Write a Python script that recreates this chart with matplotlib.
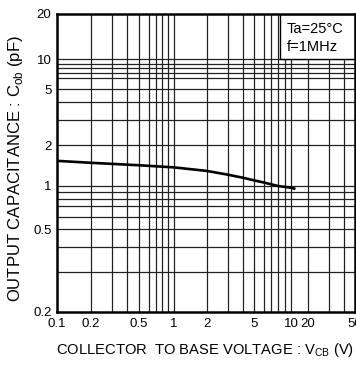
import numpy as np
import matplotlib
matplotlib.use('Agg')
import matplotlib.pyplot as plt
from matplotlib.patches import Rectangle

plt.rcParams['font.family'] = ['Liberation Sans', 'DejaVu Sans']
plt.rcParams['mathtext.fontset'] = 'custom'
plt.rcParams['mathtext.rm'] = 'Liberation Sans'

# curve
vcb = [0.1, 0.2, 0.5, 1, 2, 3, 4, 5, 6, 8, 10, 12]
cob = [1.53, 1.48, 1.42, 1.37, 1.29, 1.21, 1.15, 1.10, 1.06, 1.00, 0.97, 0.95]

x_ticks = [0.1, 0.2, 0.5, 1, 2, 5, 10, 20, 50]
x_labels = ['0.1', '0.2', '0.5', '1', '2', '5', '10', '20', '50']
y_ticks = [0.2, 0.5, 1, 2, 5, 10, 20]
y_labels = ['0.2', '0.5', '1', '2', '5', '10', '20']

x_grid = [0.2, 0.3, 0.4, 0.5, 0.6, 0.7, 0.8, 0.9, 1, 2, 3, 4, 5, 6, 7, 8, 9, 10, 20, 30, 40]
y_grid = [0.3, 0.4, 0.5, 0.6, 0.7, 0.8, 0.9, 1, 2, 3, 4, 5, 6, 7, 8, 9, 10]

# the printed grid is not a clean log grid, so the scale follows the drawn lines
x_knots = [0.1, 0.2, 0.3, 0.4, 0.5, 0.6, 0.7, 0.8, 0.9, 1, 2, 3, 4, 5, 6, 7, 8, 9, 10, 20, 30, 40, 50]
x_knot_px = [57, 91, 112, 127, 139, 149, 156, 162, 168, 174, 207, 228, 243, 254, 264, 271, 278, 285, 291, 308, 329, 344, 355]
y_knots = [0.2, 0.3, 0.4, 0.5, 0.6, 0.7, 0.8, 0.9, 1, 2, 3, 4, 5, 6, 7, 8, 9, 10, 20]
y_knot_px = [312, 272, 247, 229, 217, 206, 199, 192, 186, 145, 120, 102, 89, 78, 73, 68, 64, 59, 14]


def make_scale(knots, px):
    lk = np.log10(knots)
    p = np.array(px, dtype=float)
    if p[0] > p[-1]:
        p = -p

    def fwd(v):
        v = np.clip(np.asarray(v, dtype=float), 1e-9, None)
        return np.interp(np.log10(v), lk, p)

    def inv(u):
        return 10 ** np.interp(u, p, lk)
    return fwd, inv


W, H = 356, 365
L, R, T, B = 57, 355, 14, 312
fig = plt.figure(figsize=(W / 100, H / 100), dpi=100)
ax = fig.add_axes([L / W, (H - B) / H, (R - L) / W, (B - T) / H])

ax.set_xscale('function', functions=make_scale(x_knots, x_knot_px))
ax.set_yscale('function', functions=make_scale(y_knots, y_knot_px))
ax.set_xlim(0.1, 50)
ax.set_ylim(0.2, 20)

for v in x_grid:
    ax.axvline(v, color='#222222', lw=0.9, zorder=1)
for v in y_grid:
    ax.axhline(v, color='#222222', lw=0.9, zorder=1)

# condition box in the top right corner (axes fraction)
bx = (280 - L) / (R - L)
by = (B - 59) / (B - T)
ax.add_patch(Rectangle((bx, by), 1 - bx, 1 - by, transform=ax.transAxes,
                       facecolor='white', edgecolor='black', lw=1.0, zorder=3))
ax.text((287 - L) / (R - L), (B - 29) / (B - T), 'Ta=25°C', transform=ax.transAxes,
        fontsize=10.5, zorder=4, va='center', ha='left')
ax.text((287 - L) / (R - L), (B - 47) / (B - T), 'f=1MHz', transform=ax.transAxes,
        fontsize=10.5, zorder=4, va='center', ha='left')

ax.plot(vcb, cob, color='black', lw=1.9, zorder=5, solid_capstyle='butt')

ax.set_xticks(x_ticks)
ax.set_xticklabels(x_labels)
ax.set_yticks(y_ticks)
ax.set_yticklabels(y_labels)
ax.minorticks_off()
ax.tick_params(length=0, labelsize=9.5, pad=4)
for s in ax.spines.values():
    s.set_linewidth(1.8)
    s.set_zorder(6)

fig.text(205 / W, 1 - 350 / H, r'COLLECTOR  TO BASE VOLTAGE : V$_{\mathrm{CB}}$ (V)',
         ha='center', va='center', fontsize=10.6)
fig.text(16 / W, 1 - 169 / H, r'OUTPUT CAPACITANCE : C$_{\mathrm{ob}}$ (pF)',
         ha='center', va='center', fontsize=12, rotation=90)

fig.savefig('out.png', dpi=100)
